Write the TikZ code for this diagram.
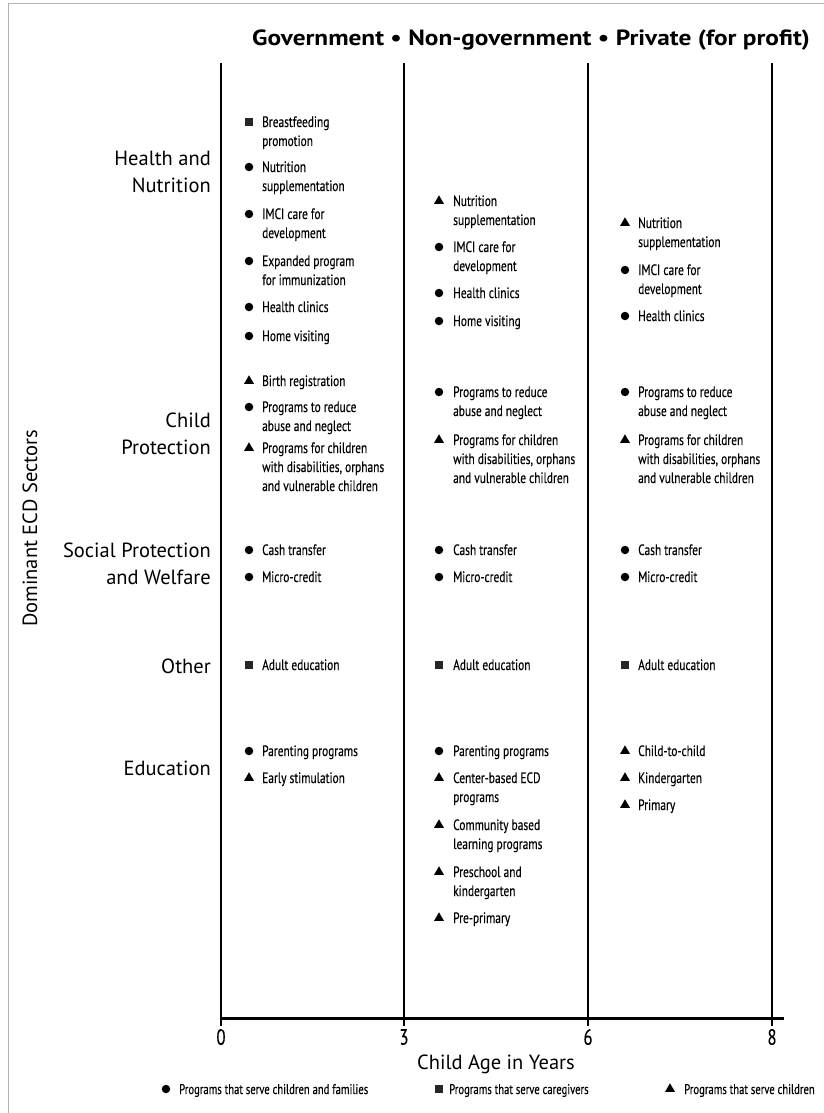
\documentclass[tikz,border=0pt]{standalone}
\usepackage{fontspec}
\setmainfont{PT Sans}
\newfontfamily\titlefont[FakeStretch=1.15]{PT Sans Bold}
\newfontfamily\itemfont[FakeStretch=0.76, FakeBold=0.25]{PT Sans}
\usetikzlibrary{shapes.geometric}

% first-line baseline parbox for item texts
\newcommand{\itemtext}[1]{\parbox[t]{170pt}{\raggedright #1}}

\begin{document}
\begin{tikzpicture}[x=1pt,y=-1pt,
  item/.style={anchor=base west, inner sep=0pt, font=\itemfont\fontsize{15}{19}\selectfont},
  mkcirc/.style={circle, fill=black, inner sep=0pt, minimum size=8.5pt},
  mkbox/.style={rectangle, fill=black!85, inner sep=0pt, minimum size=8.5pt},
  mktri/.style={regular polygon, regular polygon sides=3, fill=black, inner sep=0pt, minimum size=11.5pt},
  sector/.style={anchor=east, align=right, inner sep=0pt, font=\fontsize{20.5}{27}\selectfont},
  tick/.style={inner sep=0pt, font=\itemfont\fontsize{22}{24}\selectfont},
  legend/.style={item, font=\itemfont\fontsize{14}{16}\selectfont},
  axisline/.style={line width=2pt},
]
\useasboundingbox (0,0) rectangle (824,1113);
\fill[white] (0,0) rectangle (824,1113);

% outer frame
\draw[gray!60, line width=0.8pt] (8,1113) -- (8,3) -- (824,3);

% title
\node[inner sep=0pt, font=\titlefont\fontsize{22}{24}\selectfont] (title) at (531,40)
  {Government • Non-government • Private (for profit)};

% age grid
\coordinate (g0t) at (221,63);  \coordinate (g0b) at (221,1026);
\coordinate (g3t) at (404,63);  \coordinate (g3b) at (404,1026);
\coordinate (g6t) at (588,63);  \coordinate (g6b) at (588,1026);
\coordinate (g8t) at (772,63);  \coordinate (g8b) at (772,1026);
\coordinate (ax0) at (220,1018); \coordinate (ax1) at (784,1018);
\draw[axisline] (g0t) -- (g0b);
\draw[axisline] (g3t) -- (g3b);
\draw[axisline] (g6t) -- (g6b);
\draw[axisline] (g8t) -- (g8b);
\draw[line width=3pt] (ax0) -- (ax1);

% ticks and axis titles
\node[tick] (t0) at (221,1037) {0};
\node[tick] (t3) at (404,1037) {3};
\node[tick] (t6) at (588,1037) {6};
\node[tick] (t8) at (772,1037) {8};
\node[inner sep=0pt, font=\fontsize{20.5}{22}\selectfont] (xlab) at (496,1064) {Child Age in Years};
\node[inner sep=0pt, rotate=90, anchor=west, font=\fontsize{20.5}{22}\selectfont] (ylab) at (30,627) {Dominant ECD Sectors};

% sectors
\node[sector] (sHealth) at (211,172) {Health and\\Nutrition};
\node[sector] (sChild) at (211,434) {Child\\Protection};
\node[sector] (sSocial) at (211,564) {Social Protection\\and Welfare};
\node[sector] (sOther) at (211,666) {Other};
\node[sector] (sEdu) at (211,768) {Education};

% ---------- age 0-3 ----------
\node[mkbox]  (a1m) at (249,122) {};
\node[item]   (a1)  at (262,127) {\itemtext{Breastfeeding\\promotion}};
\node[mkcirc] (a2m) at (249,167) {};
\node[item]   (a2)  at (262,172) {\itemtext{Nutrition\\supplementation}};
\node[mkcirc] (a3m) at (249,214) {};
\node[item]   (a3)  at (262,219) {\itemtext{IMCI care for\\development}};
\node[mkcirc] (a4m) at (249,261) {};
\node[item]   (a4)  at (262,266) {\itemtext{Expanded program\\for immunization}};
\node[mkcirc] (a5m) at (249,307) {};
\node[item]   (a5)  at (262,312) {\itemtext{Health clinics}};
\node[mkcirc] (a6m) at (249,336) {};
\node[item]   (a6)  at (262,341) {\itemtext{Home visiting}};
\node[mktri]  (a7m) at (249,381) {};
\node[item]   (a7)  at (262,386) {\itemtext{Birth registration}};
\node[mkcirc] (a8m) at (249,407) {};
\node[item]   (a8)  at (262,412) {\itemtext{Programs to reduce\\abuse and neglect}};
\node[mktri]  (a9m) at (249,448) {};
\node[item]   (a9)  at (262,453) {\itemtext{Programs for children\\with disabilities, orphans\\and vulnerable children}};
\node[mkcirc] (a10m) at (249,550) {};
\node[item]   (a10)  at (262,555) {\itemtext{Cash transfer}};
\node[mkcirc] (a11m) at (249,577) {};
\node[item]   (a11)  at (262,582) {\itemtext{Micro-credit}};
\node[mkbox]  (a12m) at (249,665) {};
\node[item]   (a12)  at (262,670) {\itemtext{Adult education}};
\node[mkcirc] (a13m) at (249,751) {};
\node[item]   (a13)  at (262,756) {\itemtext{Parenting programs}};
\node[mktri]  (a14m) at (249,778) {};
\node[item]   (a14)  at (262,783) {\itemtext{Early stimulation}};

% ---------- age 3-6 ----------
\node[mktri]  (b1m) at (439,201) {};
\node[item]   (b1)  at (453,206) {\itemtext{Nutrition\\supplementation}};
\node[mkcirc] (b2m) at (439,247) {};
\node[item]   (b2)  at (453,252) {\itemtext{IMCI care for\\development}};
\node[mkcirc] (b3m) at (439,293) {};
\node[item]   (b3)  at (453,298) {\itemtext{Health clinics}};
\node[mkcirc] (b4m) at (439,321) {};
\node[item]   (b4)  at (453,326) {\itemtext{Home visiting}};
\node[mkcirc] (b5m) at (439,392) {};
\node[item]   (b5)  at (453,397) {\itemtext{Programs to reduce\\abuse and neglect}};
\node[mktri]  (b6m) at (439,440) {};
\node[item]   (b6)  at (453,445) {\itemtext{Programs for children\\with disabilities, orphans\\and vulnerable children}};
\node[mkcirc] (b7m) at (439,550) {};
\node[item]   (b7)  at (453,555) {\itemtext{Cash transfer}};
\node[mkcirc] (b8m) at (439,577) {};
\node[item]   (b8)  at (453,582) {\itemtext{Micro-credit}};
\node[mkbox]  (b9m) at (439,665) {};
\node[item]   (b9)  at (453,670) {\itemtext{Adult education}};
\node[mkcirc] (b10m) at (439,751) {};
\node[item]   (b10)  at (453,756) {\itemtext{Parenting programs}};
\node[mktri]  (b11m) at (439,778) {};
\node[item]   (b11)  at (453,783) {\itemtext{Center-based ECD\\programs}};
\node[mktri]  (b12m) at (439,825) {};
\node[item]   (b12)  at (453,830) {\itemtext{Community based\\learning programs}};
\node[mktri]  (b13m) at (439,872) {};
\node[item]   (b13)  at (453,877) {\itemtext{Preschool and\\kindergarten}};
\node[mktri]  (b14m) at (439,918) {};
\node[item]   (b14)  at (453,923) {\itemtext{Pre-primary}};

% ---------- age 6-8 ----------
\node[mktri]  (c1m) at (625,223) {};
\node[item]   (c1)  at (638,228) {\itemtext{Nutrition\\supplementation}};
\node[mkcirc] (c2m) at (625,270) {};
\node[item]   (c2)  at (638,275) {\itemtext{IMCI care for\\development}};
\node[mkcirc] (c3m) at (625,316) {};
\node[item]   (c3)  at (638,321) {\itemtext{Health clinics}};
\node[mkcirc] (c4m) at (625,392) {};
\node[item]   (c4)  at (638,397) {\itemtext{Programs to reduce\\abuse and neglect}};
\node[mktri]  (c5m) at (625,440) {};
\node[item]   (c5)  at (638,445) {\itemtext{Programs for children\\with disabilities, orphans\\and vulnerable children}};
\node[mkcirc] (c6m) at (625,550) {};
\node[item]   (c6)  at (638,555) {\itemtext{Cash transfer}};
\node[mkcirc] (c7m) at (625,577) {};
\node[item]   (c7)  at (638,582) {\itemtext{Micro-credit}};
\node[mkbox]  (c8m) at (625,665) {};
\node[item]   (c8)  at (638,670) {\itemtext{Adult education}};
\node[mktri]  (c9m) at (625,751) {};
\node[item]   (c9)  at (638,756) {\itemtext{Child-to-child}};
\node[mktri]  (c10m) at (625,778) {};
\node[item]   (c10)  at (638,783) {\itemtext{Kindergarten}};
\node[mktri]  (c11m) at (625,805) {};
\node[item]   (c11)  at (638,810) {\itemtext{Primary}};

% legend
\node[mkcirc] (l1m) at (166,1089) {};
\node[legend] (l1) at (179,1094) {Programs that serve children and families};
\node[mkbox]  (l2m) at (439,1089) {};
\node[legend] (l2) at (449,1094) {Programs that serve caregivers};
\node[mktri]  (l3m) at (670,1089) {};
\node[legend] (l3) at (684,1094) {Programs that serve children};
\end{tikzpicture}
\end{document}
